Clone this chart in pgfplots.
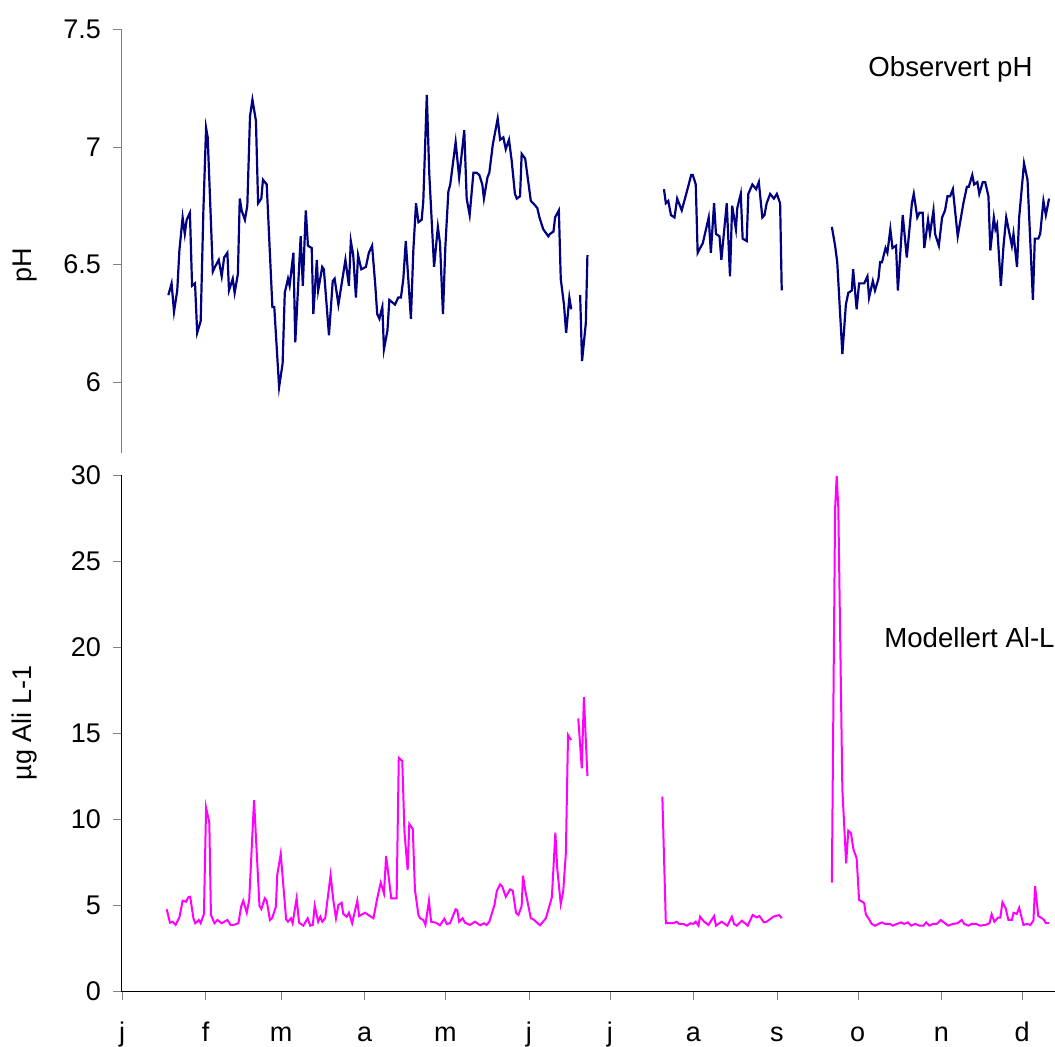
\documentclass[border=0pt]{standalone}
\usepackage{fontspec}
\setmainfont{Liberation Sans}
\usepackage{pgfplots}
\pgfplotsset{compat=1.18}
\newcommand{\chartfont}{\fontsize{13.5}{16}\selectfont}
\newcommand{\notefont}{\fontsize{13.8}{16}\selectfont}
\definecolor{phblue}{RGB}{0,0,128}
\definecolor{almag}{RGB}{255,0,255}
\definecolor{axgray}{RGB}{128,128,128}
\pgfplotsset{
  every axis/.append style={
    scale only axis, width=466.5pt, xmin=0, xmax=346.2,
    anchor=south west, clip=false,
    tick align=outside, major tick length=4.5pt,
    xtick pos=left, ytick pos=left,
    axis line style={draw=none},
    tick label style={font=\chartfont}, label style={font=\chartfont},
    yticklabel style={xshift=-2.5pt},
    /pgf/number format/assume math mode=true,
  },
  phline/.style={phblue, line width=1.1pt},
  alline/.style={almag, line width=1pt},
}
\begin{document}
\begin{tikzpicture}
% top: observed pH
\begin{axis}[
  at={(61pt,296.5pt)}, height=212pt,
  ymin=5.70, ymax=7.5, ytick={6,6.5,7,7.5}, xtick=\empty,
  ytick style={axgray},
  ylabel={pH},
  ylabel style={at={(axis description cs:0,0.443)}, yshift=48.5pt, anchor=center},
]
\draw[axgray, line width=0.5pt] (rel axis cs:0,0) -- (rel axis cs:0,1);
\addplot[phline] coordinates {(17.2,6.37)(18.4,6.42)(19.3,6.30)(20.5,6.39)(21.3,6.56)(22.5,6.70)(23.3,6.63)(24.0,6.69)(25.2,6.72)(26.0,6.41)(27.1,6.42)(27.9,6.21)(29.2,6.26)(30.2,6.73)(31.2,7.08)(31.8,7.04)(33.7,6.47)(34.5,6.49)(35.9,6.52)(37.0,6.45)(37.9,6.53)(39.1,6.55)(39.7,6.39)(41.1,6.44)(41.8,6.38)(43.0,6.46)(43.7,6.78)(44.4,6.73)(45.6,6.69)(46.5,6.75)(47.5,7.13)(48.4,7.20)(49.7,7.11)(50.5,6.76)(51.7,6.78)(52.3,6.86)(53.7,6.84)(55.8,6.32)(56.5,6.32)(58.3,5.98)(59.6,6.08)(60.4,6.38)(61.6,6.44)(62.2,6.41)(63.6,6.55)(64.3,6.17)(66.3,6.62)(67.1,6.41)(68.2,6.73)(69.0,6.58)(70.4,6.57)(71.0,6.29)(72.3,6.52)(72.8,6.39)(74.3,6.49)(74.9,6.48)(76.8,6.20)(78.2,6.43)(78.9,6.44)(80.3,6.33)(82.9,6.52)(84.2,6.41)(84.9,6.60)(85.8,6.54)(86.8,6.36)(87.6,6.54)(88.8,6.48)(90.5,6.49)(91.6,6.55)(92.8,6.58)(94.0,6.41)(94.7,6.29)(95.5,6.27)(96.6,6.32)(97.2,6.14)(98.5,6.22)(99.2,6.35)(101.3,6.33)(102.5,6.36)(103.5,6.36)(104.4,6.44)(105.3,6.60)(107.2,6.27)(108.1,6.56)(109.1,6.76)(110.0,6.68)(111.2,6.69)(111.8,6.77)(113.1,7.22)(114.0,6.89)(115.8,6.49)(117.2,6.66)(118.0,6.59)(119.1,6.29)(120.0,6.58)(121.1,6.81)(121.8,6.84)(123.8,7.02)(125.1,6.87)(127.0,7.07)(127.9,6.78)(129.0,6.71)(130.4,6.89)(131.6,6.89)(132.6,6.88)(133.7,6.84)(134.3,6.78)(135.6,6.87)(136.3,6.89)(137.6,7.01)(139.4,7.12)(140.3,7.03)(141.5,7.04)(142.4,6.99)(143.6,7.03)(144.6,6.94)(145.8,6.80)(146.5,6.78)(147.7,6.79)(148.3,6.97)(149.6,6.95)(151.7,6.77)(152.6,6.76)(154.1,6.74)(154.9,6.70)(156.3,6.65)(158.2,6.62)(158.8,6.63)(160.1,6.64)(160.7,6.70)(162.1,6.73)(162.8,6.44)(164.0,6.33)(164.8,6.21)(166.0,6.36)(166.7,6.31)};
\addplot[phline] coordinates {(170.0,6.37)(170.7,6.09)(172.1,6.25)(172.7,6.54)};
\addplot[phline] coordinates {(201.1,6.82)(201.8,6.76)(202.7,6.77)(203.7,6.71)(205.0,6.70)(206.0,6.78)(207.7,6.73)(209.6,6.81)(211.2,6.88)(211.8,6.88)(212.9,6.84)(213.6,6.55)(214.5,6.57)(215.5,6.59)(217.7,6.70)(218.5,6.55)(219.7,6.76)(220.4,6.63)(221.7,6.62)(222.4,6.52)(224.4,6.76)(225.6,6.45)(226.4,6.75)(227.8,6.65)(228.3,6.74)(229.6,6.80)(230.3,6.61)(231.8,6.60)(232.4,6.80)(233.9,6.84)(235.3,6.82)(236.3,6.85)(237.6,6.70)(238.4,6.71)(239.2,6.76)(240.5,6.80)(241.9,6.78)(243.0,6.80)(244.2,6.76)(244.8,6.39)};
\addplot[phline] coordinates {(263.4,6.66)(264.6,6.58)(265.4,6.51)(267.3,6.12)(268.6,6.33)(269.5,6.38)(270.8,6.39)(271.3,6.48)(272.6,6.31)(273.5,6.42)(274.9,6.42)(275.4,6.42)(276.6,6.45)(277.2,6.36)(278.6,6.43)(279.4,6.39)(280.7,6.44)(281.3,6.51)(282.0,6.51)(283.3,6.57)(284.0,6.55)(285.1,6.65)(285.9,6.57)(287.2,6.58)(287.9,6.39)(289.7,6.71)(291.2,6.53)(293.1,6.76)(293.8,6.80)(295.1,6.70)(295.9,6.72)(297.1,6.72)(297.7,6.57)(299.1,6.69)(299.8,6.63)(301.1,6.73)(301.7,6.63)(303.1,6.58)(304.3,6.70)(305.4,6.73)(306.3,6.79)(307.3,6.79)(308.3,6.82)(310.1,6.62)(312.2,6.76)(313.5,6.83)(314.2,6.83)(315.5,6.88)(316.2,6.84)(317.4,6.85)(318.1,6.80)(319.4,6.85)(320.3,6.85)(321.5,6.79)(322.2,6.56)(323.5,6.70)(324.1,6.65)(324.7,6.67)(326.1,6.41)(327.1,6.58)(328.1,6.70)(330.2,6.58)(330.8,6.63)(332.1,6.49)(332.9,6.70)(334.7,6.93)(336.0,6.86)(338.0,6.35)(338.7,6.61)(340.0,6.61)(340.7,6.63)(341.9,6.77)(342.8,6.71)(344.0,6.78)};
\node[anchor=base west, inner sep=0pt, font=\notefont] at (rel axis cs:0.7996,0.887) {Observert pH};
\end{axis}
% bottom: modelled Al
\begin{axis}[
  at={(61pt,27.5pt)}, height=258pt,
  ymin=0, ymax=30, ytick={0,5,10,15,20,25,30},
  xtick={0,31,59,90,120,151,181,212,243,273,304,334},
  xticklabels={j,f,m,a,m,j,j,a,s,o,n,d},
  xticklabel style={anchor=base, yshift=-20.5pt},
  ylabel={µg Ali L-1},
  ylabel style={at={(axis description cs:0,0.519)}, yshift=48.5pt, anchor=center},
]
\draw[black, line width=0.5pt] (rel axis cs:0,1) -- (rel axis cs:0,0) -- (rel axis cs:1,0);
\addplot[alline] coordinates {(16.6,4.75)(17.8,3.97)(18.8,4.03)(19.9,3.84)(21.3,4.28)(22.5,5.25)(23.8,5.19)(24.6,5.45)(25.3,5.48)(26.5,4.23)(27.2,3.94)(28.5,4.13)(29.2,3.94)(30.4,4.48)(31.2,10.66)(32.4,9.79)(33.0,4.42)(34.3,3.94)(35.4,4.13)(37.0,3.94)(39.1,4.13)(40.3,3.84)(41.3,3.84)(43.2,3.94)(44.2,4.90)(45.0,5.25)(46.3,4.55)(47.2,5.29)(49.0,11.10)(51.0,4.96)(51.7,4.77)(53.0,5.39)(53.7,5.25)(54.9,4.13)(55.7,4.23)(57.1,4.90)(57.6,6.74)(58.9,7.97)(60.9,4.17)(61.6,4.03)(62.7,4.23)(63.3,3.94)(64.8,5.39)(65.7,3.97)(67.3,3.80)(68.9,4.23)(69.8,3.80)(70.8,3.84)(71.5,4.96)(72.8,4.03)(73.6,4.32)(74.3,4.03)(75.4,4.23)(77.4,6.74)(78.4,5.29)(79.4,4.23)(80.3,5.00)(81.5,5.13)(82.1,4.48)(83.4,4.32)(84.2,4.55)(85.4,3.94)(87.3,5.25)(88.0,4.36)(90.2,4.55)(91.8,4.38)(93.3,4.23)(94.7,5.39)(96.0,6.30)(97.2,5.68)(98.0,7.85)(99.1,6.45)(99.9,5.39)(101.9,5.39)(102.7,13.56)(104.0,13.37)(104.8,9.26)(106.0,7.03)(106.6,9.71)(107.9,9.42)(108.7,5.87)(110.0,4.42)(110.6,4.23)(111.8,4.13)(112.6,3.84)(113.9,5.25)(114.7,4.03)(116.5,3.97)(118.0,3.82)(119.6,4.20)(120.5,3.90)(121.7,3.94)(123.8,4.75)(124.4,4.71)(125.1,4.03)(126.4,4.23)(127.3,3.97)(129.1,3.84)(131.0,4.03)(132.9,3.82)(134.3,3.94)(135.3,3.84)(136.3,4.03)(138.2,5.00)(139.1,5.83)(140.3,6.20)(141.1,6.07)(142.4,5.48)(144.0,5.91)(145.0,5.83)(146.2,4.55)(147.1,4.42)(148.3,4.94)(148.8,6.70)(149.6,5.87)(151.7,4.23)(152.6,4.17)(155.1,3.82)(157.3,4.23)(159.5,5.45)(160.8,9.20)(161.5,7.13)(162.8,5.06)(163.7,5.77)(164.7,8.01)(165.5,14.88)(166.6,14.59)};
\addplot[alline] coordinates {(169.3,15.85)(170.6,12.95)(171.4,17.08)(172.7,12.50)};
\addplot[alline] coordinates {(200.5,11.30)(201.8,3.94)(204.6,3.94)(205.8,4.03)(206.8,3.90)(208.3,3.90)(209.6,3.80)(211.0,3.94)(212.0,3.90)(212.9,4.03)(213.9,3.80)(214.5,4.32)(216.0,4.03)(217.6,3.84)(219.7,4.36)(220.4,3.80)(222.5,4.03)(224.6,3.80)(226.3,4.32)(227.1,3.90)(228.1,3.80)(230.0,4.09)(232.2,3.80)(234.0,4.42)(235.5,4.28)(236.5,4.36)(238.2,3.99)(239.2,4.03)(241.7,4.32)(243.8,4.42)(244.8,4.23)};
\addplot[alline] coordinates {(263.4,6.30)(264.6,28.06)(265.2,29.94)(265.8,28.06)(267.3,11.69)(268.7,7.42)(269.5,9.32)(270.5,9.17)(271.4,8.24)(272.6,7.72)(273.5,5.29)(274.7,5.19)(275.4,5.10)(276.0,4.46)(277.2,4.17)(278.2,3.90)(279.4,3.80)(280.7,3.90)(281.9,3.99)(283.2,3.90)(285.0,3.90)(286.0,3.80)(287.5,3.90)(289.1,3.99)(290.2,3.90)(291.6,3.99)(292.8,3.80)(294.3,3.90)(295.9,3.80)(297.4,3.80)(298.4,3.99)(299.6,3.80)(300.9,3.90)(302.3,3.90)(303.8,4.13)(305.0,3.99)(306.6,3.80)(308.3,3.90)(310.0,3.94)(311.6,4.13)(312.5,3.90)(314.1,3.80)(315.3,3.90)(316.9,3.90)(318.4,3.80)(320.3,3.84)(321.9,3.94)(322.7,4.46)(323.7,4.03)(325.0,4.26)(325.9,4.26)(326.7,5.16)(327.9,4.81)(328.9,4.13)(330.2,4.13)(330.8,4.55)(332.0,4.48)(332.9,4.84)(334.5,3.84)(335.7,3.90)(337.0,3.84)(338.2,4.09)(338.8,6.10)(340.0,4.36)(341.9,4.17)(342.9,3.94)(344.0,3.94)};
\node[anchor=base west, inner sep=0pt, font=\notefont] at (rel axis cs:0.8167,0.665) {Modellert Al-L};
\end{axis}
\pgfresetboundingbox
\path[use as bounding box] (0,0) rectangle (527.5pt,523pt);
\end{tikzpicture}
\end{document}
